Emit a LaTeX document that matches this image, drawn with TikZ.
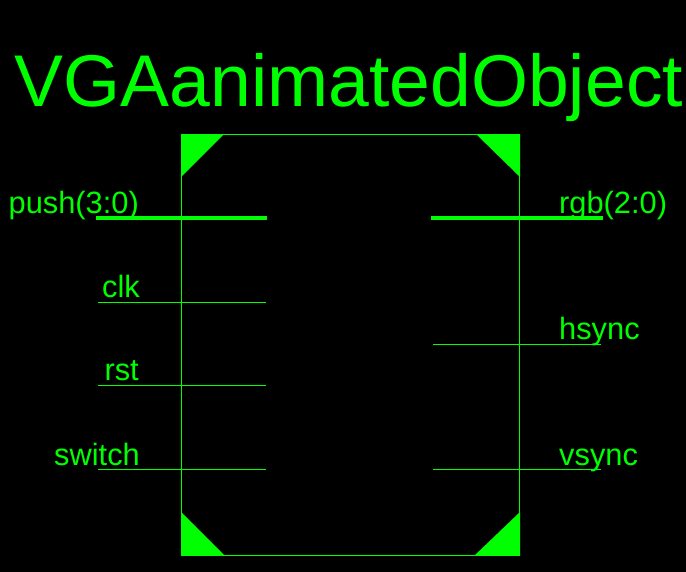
\documentclass[tikz,border=0pt]{standalone}
\usepackage{fontspec}
\setmainfont{Liberation Sans}
\definecolor{symgreen}{RGB}{0,255,0}
\begin{document}
\begin{tikzpicture}[x=1pt, y=-1pt, symgreen,
  wire/.style={draw=symgreen, line width=1.2pt},
  bus/.style={draw=symgreen, line width=4pt},
  corner/.style={fill=symgreen, draw=none},
  pinlabel/.style={font=\fontsize{30.8}{30.8}\selectfont, text=symgreen, inner sep=0pt}]

\useasboundingbox[fill=black] (0,0) rectangle (686,572);

% --- title ---
\node[font=\fontsize{73.3}{73.3}\selectfont, text=symgreen, inner sep=0pt, anchor=base] (title) at (349,107) {VGAanimatedObject};

% --- symbol body ---
\coordinate (tl) at (181.5,134.5);
\coordinate (tr) at (519.5,134.5);
\coordinate (bl) at (181.5,555.5);
\coordinate (br) at (519.5,555.5);
\draw[wire] (tl) -- (tr) -- (br) -- (bl) -- cycle;

% corner marks
\fill[corner] (tl) -- (224,134) -- (181,177) -- (181,134) -- cycle;
\fill[corner] (tr) -- (476,134) -- (520,177) -- (520,134) -- cycle;
\fill[corner] (bl) -- (225,556) -- (181,512) -- (181,556) -- cycle;
\fill[corner] (br) -- (474,556) -- (520,512) -- (520,556) -- cycle;

% --- left pins ---
\coordinate (pushA) at (96,218);    \coordinate (pushB) at (267,218);
\coordinate (clkA) at (98,302.5);   \coordinate (clkB) at (266,302.5);
\coordinate (rstA) at (98,385.5);   \coordinate (rstB) at (266,385.5);
\coordinate (swA) at (98,469.5);    \coordinate (swB) at (266,469.5);
\draw[bus] (pushA) -- (pushB);
\draw[wire] (clkA) -- (clkB);
\draw[wire] (rstA) -- (rstB);
\draw[wire] (swA) -- (swB);
\node[pinlabel, anchor=base east] (push) at (139,214) {push(3:0)};
\node[pinlabel, anchor=base east] (clk) at (140,298) {clk};
\node[pinlabel, anchor=base east] (rst) at (139,381) {rst};
\node[pinlabel, anchor=base east] (switch) at (140,465) {switch};

% --- right pins ---
\coordinate (rgbA) at (431,218);    \coordinate (rgbB) at (603,218);
\coordinate (hsA) at (433,344.5);   \coordinate (hsB) at (601,344.5);
\coordinate (vsA) at (433,469.5);   \coordinate (vsB) at (601,469.5);
\draw[bus] (rgbA) -- (rgbB);
\draw[wire] (hsA) -- (hsB);
\draw[wire] (vsA) -- (vsB);
\node[pinlabel, anchor=base west] (rgb) at (559,214) {rgb(2:0)};
\node[pinlabel, anchor=base west] (hsync) at (559,339) {hsync};
\node[pinlabel, anchor=base west] (vsync) at (559,465) {vsync};

\end{tikzpicture}
\end{document}
